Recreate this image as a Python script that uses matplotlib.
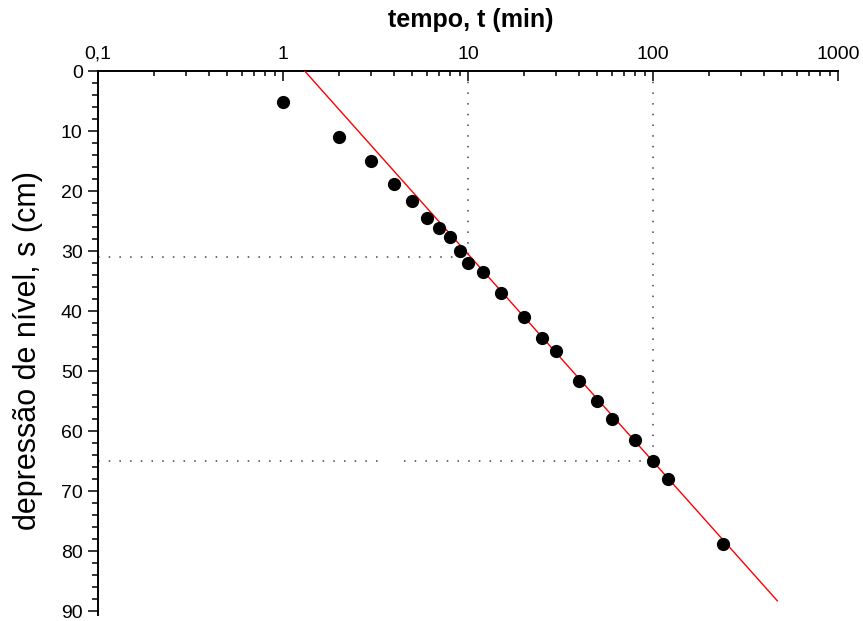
import matplotlib

matplotlib.use("Agg")
import matplotlib.pyplot as plt
from matplotlib.ticker import FixedLocator, MultipleLocator, NullFormatter, LogLocator

plt.rcParams["font.family"] = ["Liberation Sans", "DejaVu Sans"]

# pumping test: time (min) vs drawdown (cm)
tempo = [1, 2, 3, 4, 5, 6, 7, 8, 9, 10, 12, 15, 20, 25, 30, 40, 50, 60, 80, 100, 120, 240]
depressao = [5.2, 11.0, 15.0, 18.8, 21.7, 24.5, 26.2, 27.7, 30.0, 32.0, 33.5, 37.0,
             41.0, 44.5, 46.7, 51.7, 55.0, 58.0, 61.5, 65.0, 68.0, 78.8]

# fitted straight line (Cooper-Jacob), end points
reta_t = [1.31, 470]
reta_s = [0.0, 88.3]

# reading guides
guia_t = [10, 100]
guia_s = [31, 65]

x_ticks = [0.1, 1, 10, 100, 1000]
x_labels = ["0,1", "1", "10", "100", "1000"]

fig = plt.figure(figsize=(8.63, 6.21), dpi=100)
ax = fig.add_axes([98 / 863, (621 - 614.6) / 621, 740 / 863, 543.6 / 621])

ax.set_xscale("log")
ax.set_xlim(0.1, 1000)
ax.set_ylim(90.6, 0)

dots = (0, (1, 6))
for t, s in zip(guia_t, guia_s):
    ax.plot([t, t], [0, s], color="#444444", linewidth=1.1, linestyle=dots)
ax.plot([0.1, 10], [guia_s[0], guia_s[0]], color="#444444", linewidth=1.1, linestyle=dots)
ax.plot([0.1, 3.6], [guia_s[1], guia_s[1]], color="#444444", linewidth=1.1, linestyle=dots)
ax.plot([4.5, 100], [guia_s[1], guia_s[1]], color="#444444", linewidth=1.1, linestyle=dots)

ax.plot(reta_t, reta_s, color="#ff0000", linewidth=1.0, zorder=3)
ax.plot(tempo, depressao, "o", color="black", markersize=8.5, zorder=4)

ax.spines["right"].set_visible(False)
ax.spines["bottom"].set_visible(False)
ax.spines["top"].set_linewidth(1.4)
ax.spines["left"].set_linewidth(1.4)

ax.xaxis.tick_top()
ax.xaxis.set_major_locator(FixedLocator(x_ticks))
ax.set_xticklabels(x_labels)
ax.xaxis.set_minor_locator(LogLocator(base=10, subs=range(2, 10)))
ax.xaxis.set_minor_formatter(NullFormatter())
ax.tick_params(axis="x", which="major", direction="in", length=7, width=1.1, pad=6, labelsize=14)
ax.tick_params(axis="x", which="minor", direction="in", length=3.5, width=1.1)

ax.yaxis.set_major_locator(MultipleLocator(10))
ax.yaxis.set_minor_locator(MultipleLocator(2))
ax.tick_params(axis="y", which="major", direction="out", length=7, width=1.1, pad=4, labelsize=14)
ax.tick_params(axis="y", which="minor", direction="out", length=4.5, width=1.1)

ax.set_ylabel("depressão de nível, s (cm)", fontsize=22)
ax.yaxis.set_label_coords(-0.074, 0.485)

fig.text(471 / 863, 1 - 20 / 621, "tempo, t (min)", ha="center", va="center",
         fontsize=18, fontweight="bold")

fig.savefig("out.png", dpi=100)
plt.close(fig)
